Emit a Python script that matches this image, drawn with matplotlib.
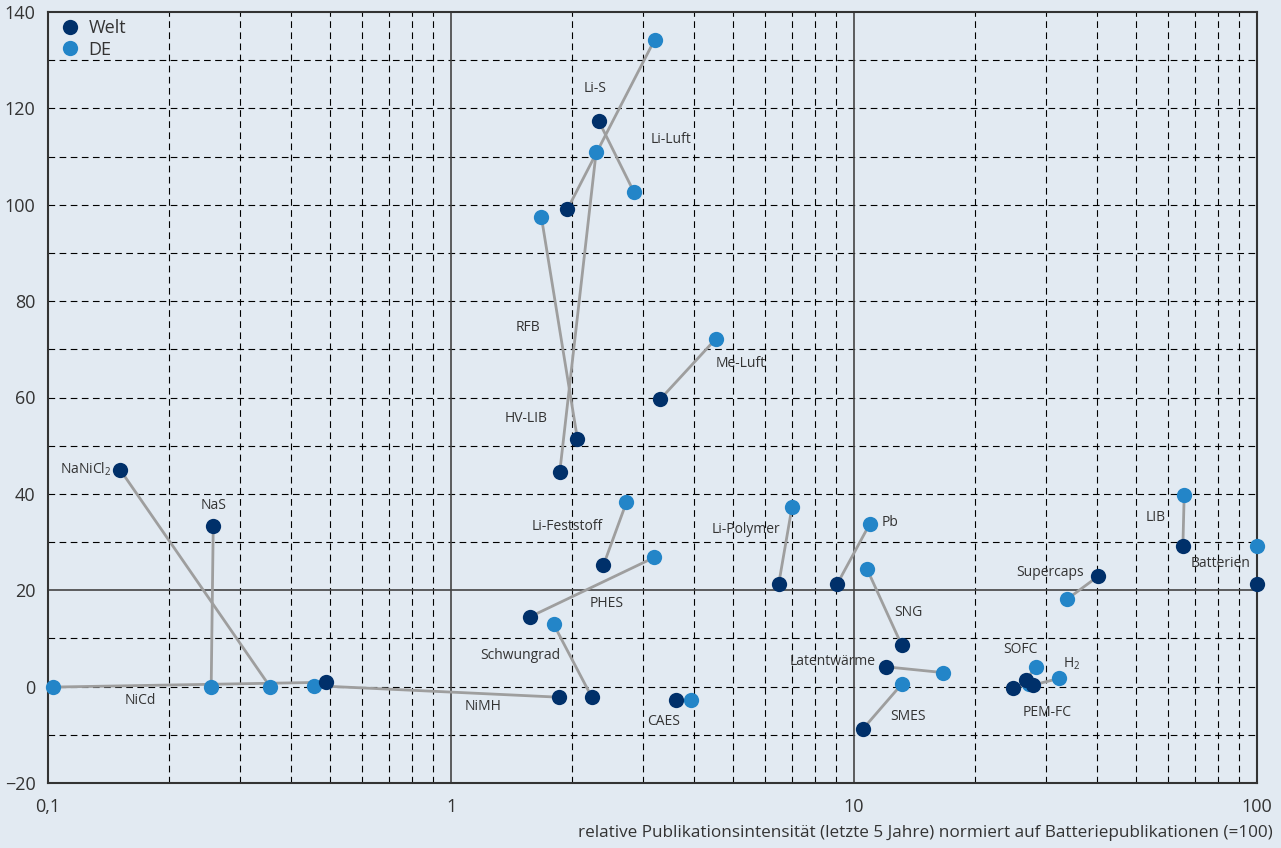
import numpy as np
import matplotlib
matplotlib.use("Agg")
import matplotlib.pyplot as plt
from matplotlib.lines import Line2D

plt.rcParams['font.family'] = ['Open Sans', 'DejaVu Sans']
plt.rcParams['mathtext.fontset'] = 'custom'
plt.rcParams['mathtext.rm'] = 'Open Sans'

# Technologien: Welt- und DE-Werte (x: relative Publikationsintensität, y: Wachstum)
names = ["NaNiCl$_2$", "NaS", "NiCd", "NiMH", "Schwungrad", "PHES", "Li-Feststoff",
         "CAES", "HV-LIB", "RFB", "Li-S", "Li-Luft", "Me-Luft", "Li-Polymer", "Pb",
         "SNG", "Latentwärme", "SMES", "SOFC", "H$_2$", "PEM-FC", "Supercaps",
         "LIB", "Batterien"]
welt_x = [0.151, 0.257, 0.49, 1.85, 2.235, 1.567, 2.389, 3.606, 1.861, 2.059, 2.325,
          1.945, 3.309, 6.499, 9.07, 13.13, 12.03, 10.52, 26.64, 27.73, 24.8, 40.34,
          65.46, 100]
welt_y = [45.0, 33.3, 0.9, -2.2, -2.2, 14.45, 25.2, -2.8, 44.5, 51.4, 117.4, 99.1,
          59.7, 21.2, 21.2, 8.6, 4.1, -8.8, 1.4, 0.3, -0.3, 22.9, 29.2, 21.2]
de_x = [0.356, 0.254, 0.103, 0.457, 1.798, 3.192, 2.724, 3.93, 2.291, 1.676, 2.841,
        3.198, 4.532, 7.013, 10.93, 10.77, 16.66, 13.13, 28.36, 32.28, 27.2, 33.73,
        65.95, 100]
de_y = [-0.1, -0.1, -0.1, 0.2, 12.9, 26.8, 38.25, -2.8, 110.9, 97.4, 102.7, 134.2,
        72.1, 37.2, 33.7, 24.4, 2.9, 0.5, 4.1, 1.7, 0.5, 18.1, 39.8, 29.2]

# Beschriftung: Bezugspunkt (w = Welt, d = DE), Versatz in Pixeln, Ausrichtung
label_pos = [("w", -9, 0, "right"), ("w", 0, 21, "center"), ("d", 87, -13, "center"),
             ("w", -76, -9, "center"), ("d", -33, -31, "center"), ("w", 77, 13, "center"),
             ("w", -36, 39, "center"), ("w", -12, -21, "center"), ("w", -34, 54, "center"),
             ("d", -13, -110, "center"), ("w", -4, 32, "center"), ("w", 104, 70, "center"),
             ("d", 25, -24, "center"), ("d", -46, -22, "center"), ("d", 12, 2, "left"),
             ("w", 7, 33, "center"), ("w", -11, 5, "right"), ("d", 6, -32, "center"),
             ("d", -16, 17, "center"), ("d", 4, 15, "left"), ("w", 34, -24, "center"),
             ("w", -14, 4, "right"), ("w", -17, 28, "right"), ("w", -7, 21, "right")]

bg = "#e2eaf2"
c_welt = "#00306a"
c_de = "#2385c8"

fig = plt.figure(figsize=(12.81, 8.48), dpi=100, facecolor=bg)
ax = fig.add_axes([0.0375, 0.0767, 0.9438, 0.9091])
ax.set_facecolor(bg)
ax.set_xscale("log")
ax.set_xlim(0.1, 100)
ax.set_ylim(-20, 140)

# Raster
for dec in [0.1, 1, 10]:
    for m in range(2, 10):
        ax.axvline(dec * m, color="black", lw=0.8, ls=(0, (6, 4)), zorder=1)
for yy in range(-10, 140, 10):
    if yy != 20:
        ax.axhline(yy, color="black", lw=0.8, ls=(0, (6, 4)), zorder=1)
for xx in [1, 10]:
    ax.axvline(xx, color="#444444", lw=1.2, zorder=1)
ax.axhline(20, color="#444444", lw=1.2, zorder=1)

for s in ax.spines.values():
    s.set_color("#333333")
    s.set_linewidth(1.5)

ax.set_xticks([0.1, 1, 10, 100])
ax.set_xticklabels(["0,1", "1", "10", "100"])
ax.xaxis.set_minor_locator(matplotlib.ticker.NullLocator())
ax.set_yticks(range(-20, 141, 20))
ax.tick_params(length=0, labelsize=13, colors="#333333")
ax.tick_params(axis="y", pad=9)
ax.tick_params(axis="x", pad=11)

# Verbindungslinien und Punkte
for i in range(len(names)):
    ax.plot([welt_x[i], de_x[i]], [welt_y[i], de_y[i]], color="#9e9e9e", lw=2,
            zorder=2, solid_capstyle="butt")
ax.plot(de_x, de_y, "o", color=c_de, ms=11, mec="none", zorder=3, clip_on=False)
ax.plot(welt_x, welt_y, "o", color=c_welt, ms=11, mec="none", zorder=4, clip_on=False)

for i, name in enumerate(names):
    ref, dx, dy, ha = label_pos[i]
    px, py = (welt_x[i], welt_y[i]) if ref == "w" else (de_x[i], de_y[i])
    ax.annotate(name, (px, py), xytext=(dx, dy), textcoords="offset pixels",
                ha=ha, va="center", fontsize=10, color="#333333", zorder=5)

handles = [Line2D([], [], ls="none", marker="o", ms=11, color=c_welt, mec="none"),
           Line2D([], [], ls="none", marker="o", ms=11, color=c_de, mec="none")]
ax.legend(handles, ["Welt", "DE"], loc="upper left", frameon=False, fontsize=13,
          handlelength=1.0, handletextpad=0.5, borderaxespad=0.0, borderpad=0.3,
          labelspacing=0.2, labelcolor="#333333", bbox_to_anchor=(0.0065, 0.998))

fig.text(1273 / 1281, 1 - 833 / 848,
         "relative Publikationsintensität (letzte 5 Jahre) normiert auf Batteriepublikationen (=100)",
         ha="right", va="center", fontsize=12.3, color="#333333")

fig.savefig("out.png", dpi=100, facecolor=bg)
